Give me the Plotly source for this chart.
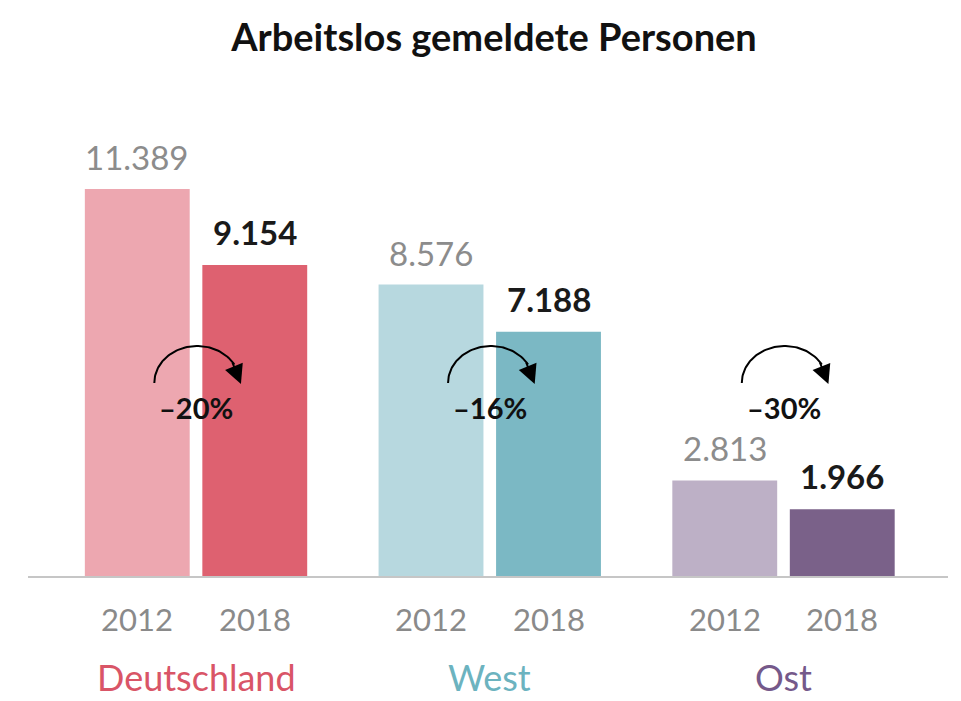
import numpy as np
import plotly.graph_objects as go

groups = ["Deutschland", "West", "Ost"]
years = ["2012", "2018"]
values_2012 = [11389, 8576, 2813]
values_2018 = [9154, 7188, 1966]

col_2012 = ["#eda7b0", "#b7d8df", "#bdb0c6"]
col_2018 = ["#de6170", "#7bb8c4", "#7a6189"]
col_label = ["#d95567", "#6cb3bf", "#75598a"]

FONT = "Source Sans Pro, Lato, Noto Sans, sans-serif"
OFF = 0.2
W = 0.357

def fmt(v):
    return f"{v:,}".replace(",", ".")

fig = go.Figure()
gx = np.arange(len(groups))
fig.add_trace(go.Bar(x=gx - OFF, y=values_2012, width=W, marker=dict(color=col_2012, line=dict(width=0)),
                     hoverinfo="skip"))
fig.add_trace(go.Bar(x=gx + OFF, y=values_2018, width=W, marker=dict(color=col_2018, line=dict(width=0)),
                     hoverinfo="skip"))

ann = []
for i, g in enumerate(groups):
    ann.append(dict(x=i - OFF, y=values_2012[i], text=fmt(values_2012[i]), showarrow=False,
                    yanchor="middle", yshift=32, font=dict(family=FONT, size=33, color="#8c8c8c")))
    ann.append(dict(x=i + OFF, y=values_2018[i], text=f"<b>{fmt(values_2018[i])}</b>", showarrow=False,
                    yanchor="middle", yshift=33, font=dict(family=FONT, size=33, color="#1a1a1a")))
    for k, yr in enumerate(years):
        ann.append(dict(x=i + (-OFF if k == 0 else OFF), y=0, yref="paper", text=yr, showarrow=False,
                        yanchor="middle", yshift=-43, font=dict(family=FONT, size=31, color="#8a8a8a")))
    ann.append(dict(x=i, y=0, yref="paper", text=g, showarrow=False, yanchor="middle", yshift=-101,
                    font=dict(family=FONT, size=36, color=col_label[i])))
    pct = round((values_2018[i] - values_2012[i]) / values_2012[i] * 100)
    ann.append(dict(x=i, y=4974, text=f"<b>–{abs(pct)}%</b>", showarrow=False, yanchor="middle",
                    font=dict(family=FONT, size=29, color="#111111")))

    # curved arrow
    cx, cy, rx, ry = i + 0.004, 5680, 0.146, 1090
    t = np.linspace(np.pi, np.deg2rad(30), 60)
    fig.add_trace(go.Scatter(x=cx + rx * np.cos(t), y=cy + ry * np.sin(t), mode="lines",
                             line=dict(color="#000000", width=2), hoverinfo="skip"))
    ann.append(dict(x=cx + rx * 1.02, y=cy - 30, ax=cx + rx * np.cos(np.deg2rad(36)), ay=cy + ry * np.sin(np.deg2rad(36)),
                    axref="x", ayref="y", text="", showarrow=True, arrowhead=2, arrowsize=1.9,
                    arrowwidth=2, arrowcolor="#000000"))

fig.update_layout(
    width=953, height=693,
    margin=dict(l=20, r=13, t=92, b=125),
    plot_bgcolor="white", paper_bgcolor="white",
    showlegend=False, barmode="overlay",
    title=dict(text="<b>Arbeitslos gemeldete Personen</b>", x=0.51, xanchor="center", y=0.957, yanchor="middle",
               font=dict(family=FONT, size=38, color="#111111")),
    xaxis=dict(range=[-0.572, 2.560], showticklabels=False, showgrid=False, zeroline=False,
               showline=True, linecolor="#c6c6c6", linewidth=1.5, ticks=""),
    yaxis=dict(range=[0, 14010], showticklabels=False, showgrid=False, zeroline=False, showline=False),
    annotations=ann,
)
fig.write_html("out.html")
